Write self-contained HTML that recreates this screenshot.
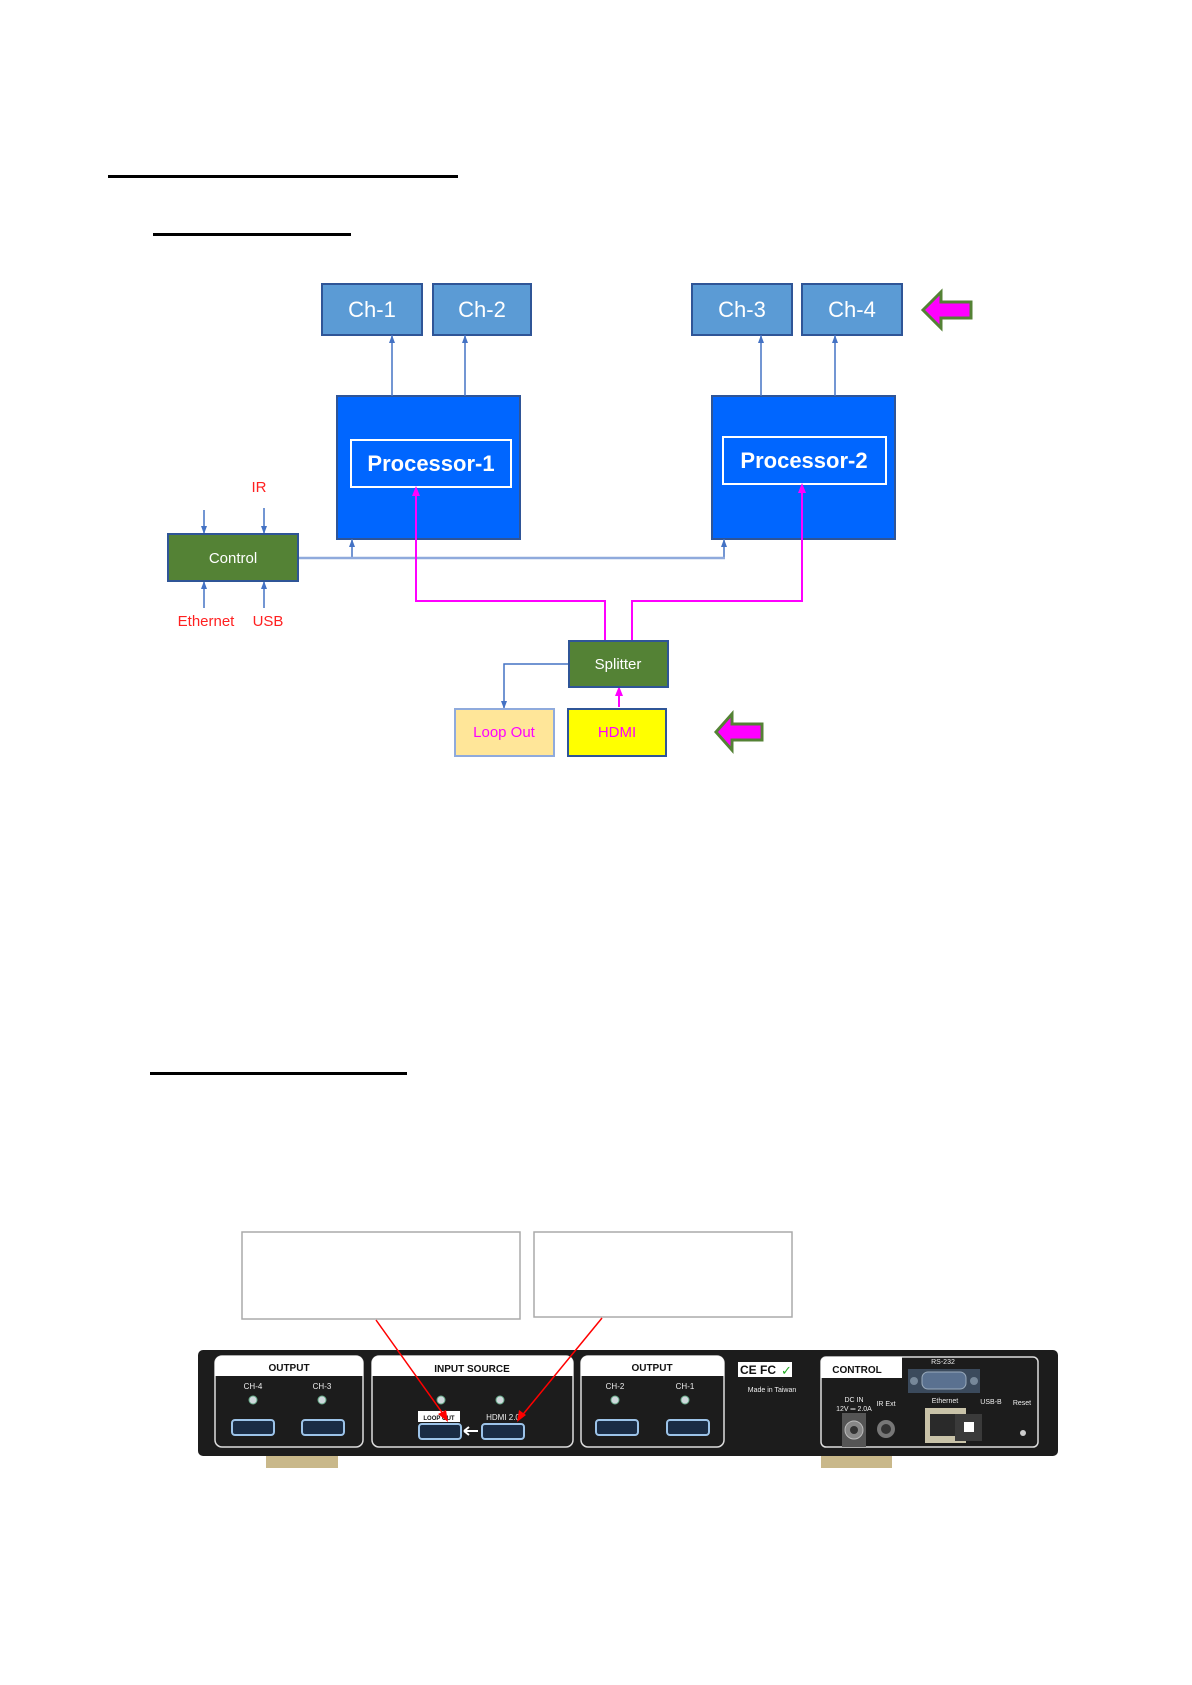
<!DOCTYPE html>
<html><head><meta charset="utf-8"><style>
html,body{margin:0;padding:0;background:#fff;}
body{width:1192px;height:1685px;position:relative;overflow:hidden;}
svg{position:absolute;left:0;top:0;}
</style></head><body>
<svg width="1192" height="1685" viewBox="0 0 1192 1685" font-family="Liberation Sans, sans-serif">
<defs>
<marker id="ab" markerWidth="9" markerHeight="8" refX="8" refY="4" orient="auto" markerUnits="userSpaceOnUse"><path d="M0,1 L8,4 L0,7 Z" fill="#4472c4"/></marker>
</defs>
<rect x="108" y="175" width="350" height="3" fill="#000"/>
<rect x="153" y="233" width="198" height="3" fill="#000"/>
<rect x="150" y="1072" width="257" height="3" fill="#000"/>

<g fill="#5b9bd5" stroke="#2f5597" stroke-width="2">
<rect x="322" y="284" width="100" height="51"/>
<rect x="433" y="284" width="98" height="51"/>
<rect x="692" y="284" width="100" height="51"/>
<rect x="802" y="284" width="100" height="51"/>
</g>
<g fill="#fff" font-size="22" text-anchor="middle">
<text x="372" y="317">Ch-1</text><text x="482" y="317">Ch-2</text>
<text x="742" y="317">Ch-3</text><text x="852" y="317">Ch-4</text>
</g>
<path d="M923,310 L941,292 L941,302 L971,302 L971,318 L941,318 L941,328 Z" fill="#f0f" stroke="#548235" stroke-width="3"/>
<path d="M716,732 L732,714 L732,724 L762,724 L762,740 L732,740 L732,750 Z" fill="#f0f" stroke="#548235" stroke-width="3"/>

<rect x="337" y="396" width="183" height="143" fill="#0066ff" stroke="#2f5597" stroke-width="2"/>
<rect x="351" y="440" width="160" height="47" fill="none" stroke="#fff" stroke-width="2"/>
<text x="431" y="471" fill="#fff" font-size="22" font-weight="bold" text-anchor="middle">Processor-1</text>
<rect x="712" y="396" width="183" height="143" fill="#0066ff" stroke="#2f5597" stroke-width="2"/>
<rect x="723" y="437" width="163" height="47" fill="none" stroke="#fff" stroke-width="2"/>
<text x="804" y="468" fill="#fff" font-size="22" font-weight="bold" text-anchor="middle">Processor-2</text>

<g stroke="#4472c4" stroke-width="1.5" fill="none">
<line x1="392" y1="396" x2="392" y2="335" marker-end="url(#ab)"/>
<line x1="465" y1="396" x2="465" y2="335" marker-end="url(#ab)"/>
<line x1="761" y1="396" x2="761" y2="335" marker-end="url(#ab)"/>
<line x1="835" y1="396" x2="835" y2="335" marker-end="url(#ab)"/>
<line x1="204" y1="510" x2="204" y2="534" marker-end="url(#ab)"/>
<line x1="264" y1="508" x2="264" y2="534" marker-end="url(#ab)"/>
<line x1="204" y1="608" x2="204" y2="581" marker-end="url(#ab)"/>
<line x1="264" y1="608" x2="264" y2="581" marker-end="url(#ab)"/>
<line x1="352" y1="558" x2="352" y2="539" marker-end="url(#ab)"/>
<line x1="724" y1="558" x2="724" y2="539" marker-end="url(#ab)"/>
<polyline points="569,664 504,664 504,709" marker-end="url(#ab)"/>
</g>
<line x1="298" y1="558" x2="725" y2="558" stroke="#8faadc" stroke-width="2.5"/>

<rect x="168" y="534" width="130" height="47" fill="#548235" stroke="#2f5597" stroke-width="2"/>
<text x="233" y="563" fill="#fff" font-size="15" text-anchor="middle">Control</text>
<g fill="#ff2020" font-size="15" text-anchor="middle">
<text x="259" y="492">IR</text>
<text x="206" y="626">Ethernet</text>
<text x="268" y="626">USB</text>
</g>

<g stroke="#f0f" stroke-width="2" fill="none">
<polyline points="605,641 605,601 416,601 416,490"/>
<polyline points="632,641 632,601 802,601 802,487"/>
<line x1="619" y1="707" x2="619" y2="690"/>
</g>
<path d="M416,486 L412,496 L420,496 Z" fill="#f0f"/>
<path d="M802,483 L798,493 L806,493 Z" fill="#f0f"/>
<path d="M619,686 L615,696 L623,696 Z" fill="#f0f"/>

<rect x="569" y="641" width="99" height="46" fill="#548235" stroke="#2f5597" stroke-width="2"/>
<text x="618" y="669" fill="#fff" font-size="15" text-anchor="middle">Splitter</text>
<rect x="455" y="709" width="99" height="47" fill="#ffe699" stroke="#8faadc" stroke-width="2"/>
<text x="504" y="737" fill="#f0f" font-size="15" text-anchor="middle">Loop Out</text>
<rect x="568" y="709" width="98" height="47" fill="#ff0" stroke="#2f5597" stroke-width="2"/>
<text x="617" y="737" fill="#f0f" font-size="15" text-anchor="middle">HDMI</text>

<rect x="242" y="1232" width="278" height="87" fill="#fff" stroke="#aaa" stroke-width="1.5"/>
<rect x="534" y="1232" width="258" height="85" fill="#fff" stroke="#aaa" stroke-width="1.5"/>

<rect x="266" y="1450" width="72" height="18" fill="#c9b88a"/>
<rect x="821" y="1450" width="71" height="18" fill="#c9b88a"/>
<rect x="198" y="1350" width="860" height="106" rx="5" fill="#1c1c1c"/>
<g fill="none" stroke="#ddd" stroke-width="1.5">
<rect x="215" y="1356" width="148" height="91" rx="7"/>
<rect x="372" y="1356" width="201" height="91" rx="7"/>
<rect x="581" y="1356" width="143" height="91" rx="7"/>
<rect x="821" y="1357" width="217" height="90" rx="5"/>
</g>
<g fill="#fff">
<path d="M215,1376 L215,1363 Q215,1356 222,1356 L356,1356 Q363,1356 363,1363 L363,1376 Z"/>
<path d="M372,1376 L372,1363 Q372,1356 379,1356 L566,1356 Q573,1356 573,1363 L573,1376 Z"/>
<path d="M581,1376 L581,1363 Q581,1356 588,1356 L717,1356 Q724,1356 724,1363 L724,1376 Z"/>
<path d="M821,1378 L821,1362 Q821,1357 826,1357 L902,1357 L902,1378 Z"/>
<rect x="418" y="1411" width="42" height="11"/>
</g>
<g font-size="10" font-weight="bold" text-anchor="middle" fill="#111">
<text x="289" y="1371">OUTPUT</text>
<text x="472" y="1372">INPUT SOURCE</text>
<text x="652" y="1371">OUTPUT</text>
<text x="857" y="1373">CONTROL</text>
<text x="439" y="1420" font-size="6">LOOP OUT</text>
</g>
<g fill="#eee" font-size="8" text-anchor="middle">
<text x="253" y="1389">CH-4</text><text x="322" y="1389">CH-3</text>
<text x="615" y="1389">CH-2</text><text x="685" y="1389">CH-1</text>
<text x="503" y="1420">HDMI 2.0</text>
<text x="772" y="1392" font-size="7">Made in Taiwan</text>
<text x="943" y="1364" font-size="7">RS-232</text>
<text x="854" y="1402" font-size="7">DC IN</text>
<text x="854" y="1411" font-size="7">12V ═ 2.0A</text>
<text x="886" y="1406" font-size="7">IR Ext</text>
<text x="945" y="1403" font-size="7">Ethernet</text>
<text x="991" y="1404" font-size="7">USB-B</text>
<text x="1022" y="1405" font-size="7">Reset</text>
</g>
<rect x="738" y="1362" width="54" height="15" fill="#fff"/>
<text x="740" y="1374" fill="#111" font-size="12" font-weight="bold">CE FC</text>
<text x="781" y="1375" fill="#2a2" font-size="13">✓</text>
<g fill="#cfd8dc" stroke="#6a8" stroke-width="1">
<circle cx="253" cy="1400" r="4"/><circle cx="322" cy="1400" r="4"/>
<circle cx="441" cy="1400" r="4"/><circle cx="500" cy="1400" r="4"/>
<circle cx="615" cy="1400" r="4"/><circle cx="685" cy="1400" r="4"/>
</g>
<g fill="#1a2c44" stroke="#9cc3e8" stroke-width="2">
<rect x="232" y="1420" width="42" height="15" rx="3"/>
<rect x="302" y="1420" width="42" height="15" rx="3"/>
<rect x="419" y="1424" width="42" height="15" rx="3"/>
<rect x="482" y="1424" width="42" height="15" rx="3"/>
<rect x="596" y="1420" width="42" height="15" rx="3"/>
<rect x="667" y="1420" width="42" height="15" rx="3"/>
</g>
<path d="M464,1431 L478,1431 M464,1431 L469,1427 M464,1431 L469,1435" stroke="#fff" stroke-width="2"/>
<rect x="908" y="1369" width="72" height="24" fill="#3b4a5c"/>
<rect x="922" y="1372" width="44" height="17" rx="6" fill="#5a7190" stroke="#9ab" stroke-width="1"/>
<circle cx="914" cy="1381" r="4" fill="#789"/><circle cx="974" cy="1381" r="4" fill="#789"/>
<rect x="842" y="1413" width="24" height="34" fill="#555"/>
<circle cx="854" cy="1430" r="9" fill="#888" stroke="#bbb"/>
<circle cx="854" cy="1430" r="4" fill="#333"/>
<circle cx="886" cy="1429" r="9" fill="#777"/><circle cx="886" cy="1429" r="5" fill="#333"/>
<rect x="925" y="1408" width="41" height="35" fill="#c9c3a9"/>
<rect x="930" y="1414" width="31" height="22" fill="#2a2a2a"/>
<rect x="955" y="1414" width="27" height="27" fill="#3a3a3a"/>
<rect x="964" y="1422" width="10" height="10" fill="#fff"/>
<circle cx="1023" cy="1433" r="3" fill="#ccc"/>

<g stroke="#f00" stroke-width="1.5">
<line x1="376" y1="1320" x2="446" y2="1418"/>
<line x1="602" y1="1318" x2="520" y2="1418"/>
</g>
<path d="M448,1422 L438,1414 L446,1410 Z" fill="#f00"/>
<path d="M517,1422 L519,1410 L526,1415 Z" fill="#f00"/>
</svg>
</body></html>
